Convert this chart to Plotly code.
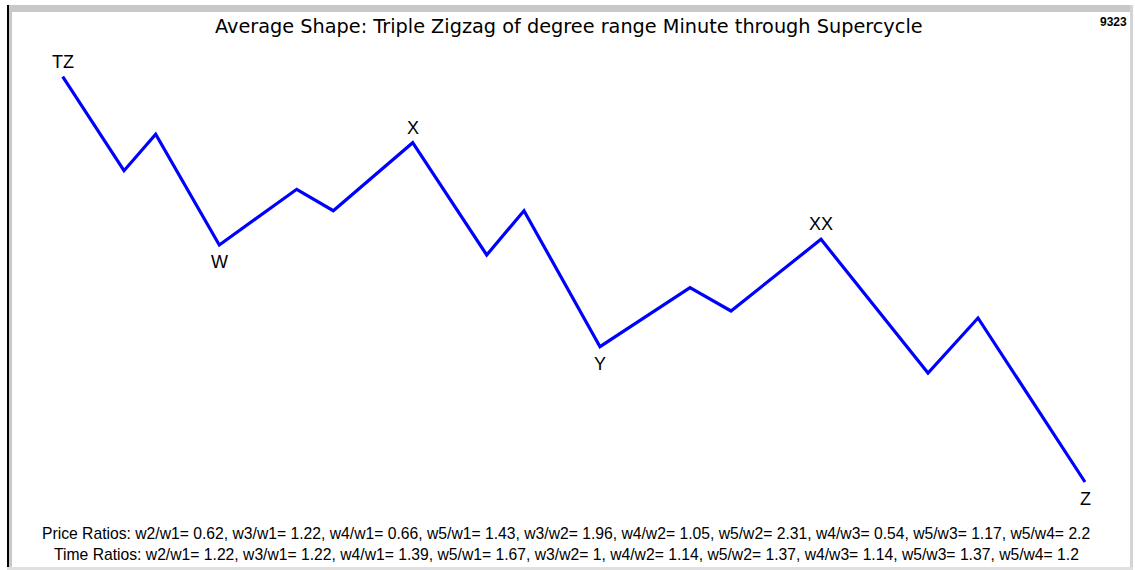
import plotly.graph_objects as go

# Wave vertices (time position, price level; y grows downward in chart pixels)
x_vals = [62.7, 124, 155.7, 219.3, 296.7, 333.3, 412.7, 486.7, 524, 600, 690, 731, 821, 928, 978, 1085]
y_vals = [76.7, 170.7, 134.3, 245, 189.3, 210.7, 142.7, 255, 210.7, 346.7, 287.7, 311, 239.3, 373, 318, 482]

label_idx = [0, 3, 6, 9, 12, 15]
label_txt = ["TZ", "W", "X", "Y", "XX", "Z"]
label_pos = ["above", "below", "above", "below", "above", "below"]

title_text = "Average Shape: Triple Zigzag of degree range Minute through Supercycle"
corner_text = "9323"
price_ratios = "Price Ratios: w2/w1= 0.62, w3/w1= 1.22, w4/w1= 0.66, w5/w1= 1.43, w3/w2= 1.96, w4/w2= 1.05, w5/w2= 2.31, w4/w3= 0.54, w5/w3= 1.17, w5/w4= 2.2"
time_ratios = "Time Ratios: w2/w1= 1.22, w3/w1= 1.22, w4/w1= 1.39, w5/w1= 1.67, w3/w2= 1, w4/w2= 1.14, w5/w2= 1.37, w4/w3= 1.14, w5/w3= 1.37, w5/w4= 1.2"

W, H = 1135, 570
FONT = "Liberation Sans, Arial, sans-serif"

fig = go.Figure()
fig.add_trace(go.Scatter(x=x_vals, y=y_vals, mode="lines",
                         line=dict(color="#0000ff", width=3.2), hoverinfo="skip"))

for i, t, p in zip(label_idx, label_txt, label_pos):
    fig.add_annotation(x=x_vals[i], y=y_vals[i], text=t, showarrow=False,
                       xanchor="center", yanchor="bottom" if p == "above" else "top",
                       yshift=3 if p == "above" else -5,
                       font=dict(family=FONT, size=18, color="#000000"))

def px(xp):
    return xp / W

def py(yp):
    return 1 - yp / H

fig.add_annotation(xref="paper", yref="paper", x=px(569), y=py(26), text=title_text,
                   showarrow=False, xanchor="center", yanchor="middle",
                   font=dict(family="DejaVu Sans, sans-serif", size=19.3, color="#000000"))
fig.add_annotation(xref="paper", yref="paper", x=px(1129), y=py(22), text="<b>" + corner_text + "</b>",
                   showarrow=False, xanchor="right", yanchor="middle",
                   font=dict(family=FONT, size=12, color="#000000"))
fig.add_annotation(xref="paper", yref="paper", x=px(566), y=py(533), text=price_ratios,
                   showarrow=False, xanchor="center", yanchor="middle",
                   font=dict(family=FONT, size=15.7, color="#000000"))
fig.add_annotation(xref="paper", yref="paper", x=px(566), y=py(554), text=time_ratios,
                   showarrow=False, xanchor="center", yanchor="middle",
                   font=dict(family=FONT, size=15.7, color="#000000"))

# Frame
shapes = [
    dict(type="rect", xref="paper", yref="paper", x0=px(7), x1=px(1133), y0=py(5), y1=py(12),
         fillcolor="#c8c8c8", line=dict(width=0), layer="below"),
    dict(type="rect", xref="paper", yref="paper", x0=px(7), x1=px(9), y0=py(5), y1=py(570),
         fillcolor="#000000", line=dict(width=0)),
    dict(type="rect", xref="paper", yref="paper", x0=px(9), x1=px(12), y0=py(5), y1=py(570),
         fillcolor="#c8c8c8", line=dict(width=0)),
    dict(type="rect", xref="paper", yref="paper", x0=px(1130), x1=px(1133), y0=py(5), y1=py(570),
         fillcolor="#d4d4d4", line=dict(width=0)),
    dict(type="rect", xref="paper", yref="paper", x0=px(7), x1=px(1133), y0=py(567), y1=py(570),
         fillcolor="#e0e0e0", line=dict(width=0)),
]

fig.update_layout(
    width=W, height=H, margin=dict(l=0, r=0, t=0, b=0),
    paper_bgcolor="white", plot_bgcolor="white", showlegend=False,
    xaxis=dict(range=[0, W], visible=False, fixedrange=True),
    yaxis=dict(range=[H, 0], visible=False, fixedrange=True),
    shapes=shapes,
)

fig.write_html("out.html", config={"displayModeBar": False},
               post_script="document.body.style.margin='0px';document.body.style.overflow='hidden';")
